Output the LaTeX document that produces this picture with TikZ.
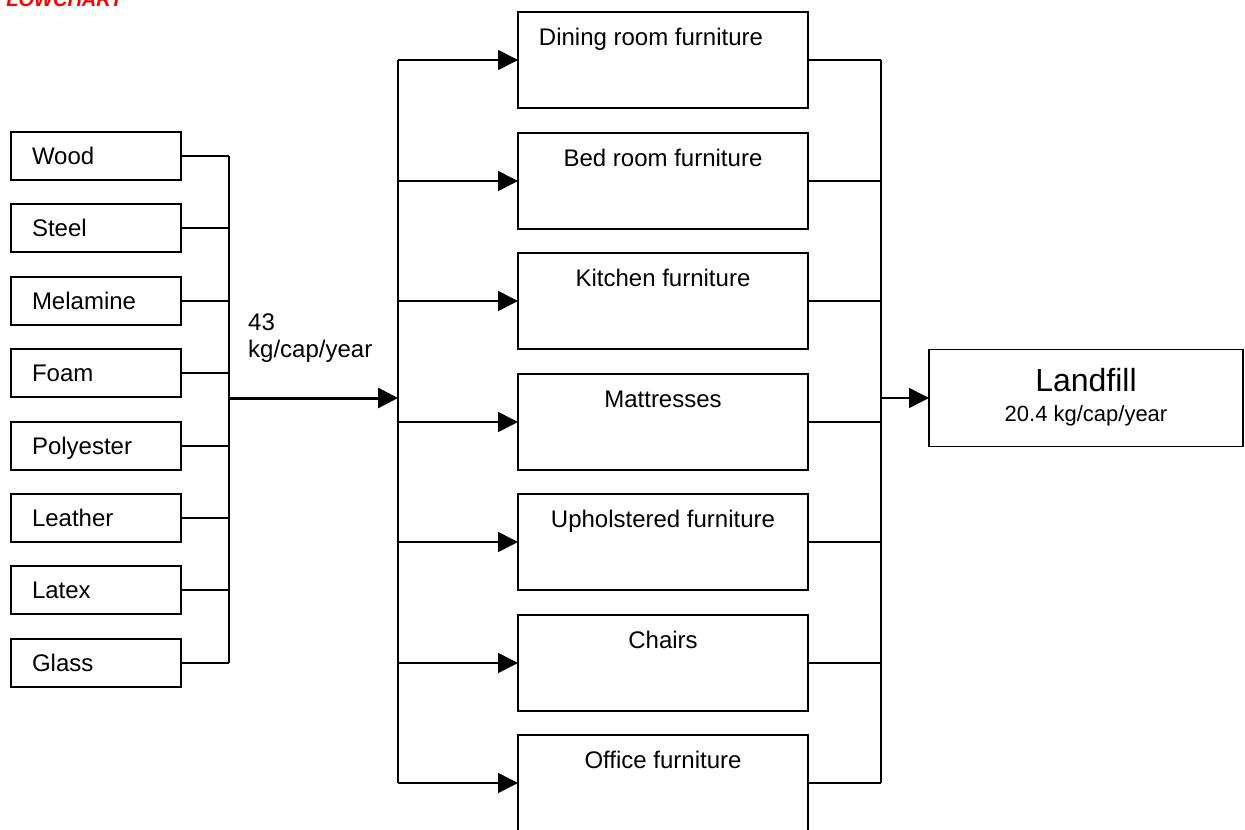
\documentclass[tikz,border=0pt]{standalone}
\usepackage{fontspec}
\setmainfont{Liberation Sans}
\usetikzlibrary{arrows.meta}
\tikzset{
  wire/.style={line width=1.6pt},
  feed/.style={wire, -{Triangle[length=20pt,width=20pt]}},
  matbox/.style={draw, line width=1.6pt, outer sep=0pt, minimum width=170pt, minimum height=48pt,
    inner xsep=21pt, text width=128pt, align=left, text height=17pt, text depth=0pt,
    font=\fontsize{24}{28}\selectfont},
  catbox/.style={draw, line width=1.6pt, outer sep=0pt, minimum width=290pt, inner xsep=0pt,
    inner ysep=16pt, text height=17pt, text depth=47pt, font=\fontsize{24}{28}\selectfont},
  endbox/.style={draw, line width=1.6pt, outer sep=0pt, minimum width=314pt, minimum height=97pt,
    align=center, font=\fontsize{32}{30}\selectfont}
}
\begin{document}
\begin{tikzpicture}[x=1pt, y=-1pt]
\useasboundingbox (0,0) rectangle (1245,830);
\clip (0,0) rectangle (1245,830);

% heading, partly outside the page
\begin{scope}
  \clip (5.5,0) rectangle (200,20);
  \node[anchor=base west, inner sep=0pt, text=red, font=\fontsize{20}{24}\selectfont\bfseries\itshape]
    (heading) at (-6,6) {FLOWCHART};
\end{scope}

% materials
\node[matbox] (wood)  at (96,156) {Wood};
\node[matbox] (steel) at (96,228) {Steel};
\node[matbox] (mel)   at (96,301) {Melamine};
\node[matbox] (foam)  at (96,373) {Foam};
\node[matbox] (poly)  at (96,446) {Polyester};
\node[matbox] (leath) at (96,518) {Leather};
\node[matbox] (latex) at (96,590) {Latex};
\node[matbox] (glass) at (96,663) {Glass};

% furniture categories
\node[catbox] (dining)  at (663,60)  {Dining room furniture\hspace*{24pt}};
\node[catbox] (bed)     at (663,181) {Bed room furniture};
\node[catbox] (kitchen) at (663,301) {Kitchen furniture};
\node[catbox] (matt)    at (663,422) {Mattresses};
\node[catbox] (uphol)   at (663,542) {Upholstered furniture};
\node[catbox] (chairs)  at (663,663) {Chairs};
\node[catbox] (office)  at (663,783) {Office furniture};

% destination
\node[endbox, text depth=6.6pt] (landfill) at (1086,398)
  {Landfill\\{\fontsize{22}{30}\selectfont 20.4 kg/cap/year}};

% bus points
\coordinate (lbus) at (229,398);
\coordinate (mbus) at (398,398);
\coordinate (rbus) at (881,398);

% materials into the left bus
\foreach \m in {wood,steel,mel,foam,poly,leath,latex,glass}
  \draw[wire] (\m.east) -- (\m.east -| lbus);
\draw[wire] (wood.east -| lbus) -- (glass.east -| lbus);

% main flow
\draw[line width=3pt, -{Triangle[length=20pt,width=20pt]}] (lbus) -- (mbus);
\node[anchor=base west, inner sep=0pt, align=left, font=\fontsize{24}{27}\selectfont]
  (flow) at (248,357) {43\\kg/cap/year};

% middle bus into categories
\draw[wire] (dining.west -| mbus) -- (office.west -| mbus);
\foreach \c in {dining,bed,kitchen,matt,uphol,chairs,office}
  \draw[feed] (\c.west -| mbus) -- (\c.west);

% categories into the right bus
\foreach \c in {dining,bed,kitchen,matt,uphol,chairs,office}
  \draw[wire] (\c.east) -- (\c.east -| rbus);
\draw[wire] (dining.east -| rbus) -- (office.east -| rbus);
\draw[feed] (rbus) -- (landfill.west);
\end{tikzpicture}
\end{document}
